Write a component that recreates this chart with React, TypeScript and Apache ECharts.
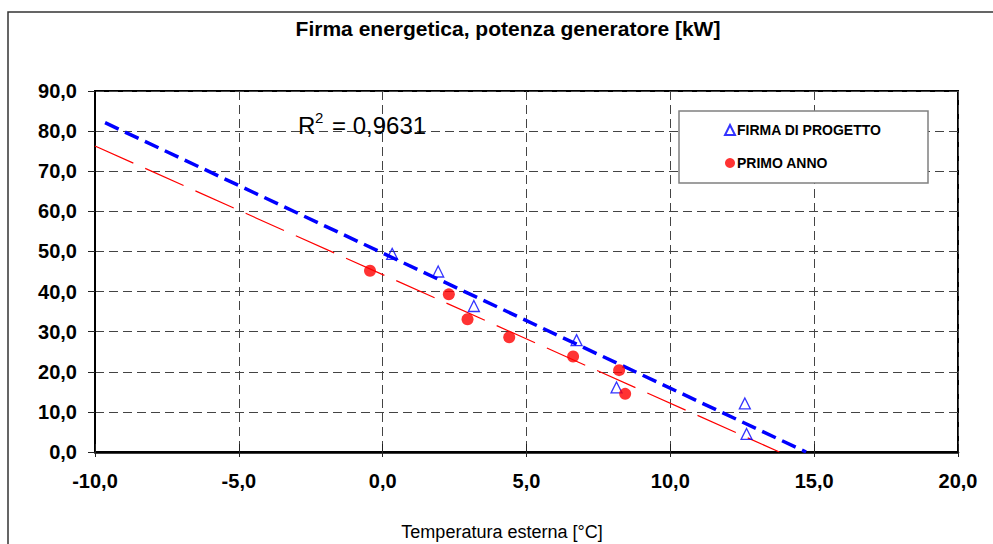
import React, { useEffect, useRef } from "react";
import * as echarts from "echarts";

const FONT = "'Liberation Sans', Arial, sans-serif";

// Temperature (°C) / power (kW)
const firmaX = [0.33, 1.93, 3.17, 6.74, 8.13, 12.59, 12.65];
const firmaY = [49.4, 45.0, 36.4, 27.9, 16.1, 12.1, 4.5];
const primoX = [-0.44, 2.3, 2.95, 4.4, 6.62, 8.22, 8.43];
const primoY = [45.2, 39.3, 33.1, 28.6, 23.8, 20.4, 14.5];
// trend lines (two end points each)
const trendFirmaX = [-9.65, 14.72];
const trendFirmaY = [82.1, 0];
const trendPrimoX = [-10, 13.79];
const trendPrimoY = [76.3, 0];

const seriesNames = ["FIRMA DI PROGETTO", "PRIMO ANNO"];
const titleText = "Firma energetica, potenza generatore [kW]";
const xAxisName = "Temperatura esterna [°C]";
const r2Value = "= 0,9631";

const fmt = (v: number) => v.toFixed(1).replace(".", ",");
const zip = (xs: number[], ys: number[]) => xs.map((x, i) => [x, ys[i]]);

export default function App() {
  const ref = useRef<HTMLDivElement>(null);
  useEffect(() => {
    document.body.style.margin = "0";
    const chart = echarts.init(ref.current!, null, { renderer: "svg" });
    const grid = "#444";
    chart.setOption({
      animation: false,
      backgroundColor: "#fff",
      textStyle: { fontFamily: FONT },
      grid: {
        left: 95,
        right: 35,
        top: 91,
        bottom: 92,
        show: true,
        borderColor: "#000",
        borderWidth: 2,
        backgroundColor: "transparent",
      },
      xAxis: [
        {
          type: "value",
          min: -10,
          max: 20,
          interval: 5,
          position: "bottom",
          axisLine: { show: true, onZero: false, lineStyle: { color: "#000", width: 2.5 } },
          axisTick: { show: true, length: 5, lineStyle: { color: "#222", width: 1 } },
          axisLabel: {
            formatter: fmt,
            fontSize: 20,
            fontWeight: "bold",
            color: "#000",
            margin: 19,
            fontFamily: FONT,
          },
          splitLine: { show: true, lineStyle: { color: grid, type: [9, 5], width: 1 } },
        },
        {
          type: "value",
          min: -10,
          max: 20,
          interval: 5,
          position: "bottom",
          axisLine: { show: false },
          axisTick: { show: true, inside: true, length: 8, lineStyle: { color: "#222", width: 1 } },
          axisLabel: { show: false },
          splitLine: { show: false },
        },
      ],
      yAxis: {
        type: "value",
        min: 0,
        max: 90,
        interval: 10,
        axisLine: { show: true, onZero: false, lineStyle: { color: "#000", width: 2 } },
        axisTick: { show: true, length: 7, lineStyle: { color: "#222", width: 1 } },
        axisLabel: {
          formatter: fmt,
          fontSize: 20,
          fontWeight: "bold",
          color: "#000",
          margin: 18,
          fontFamily: FONT,
        },
        splitLine: { show: true, lineStyle: { color: grid, type: [9, 5], width: 1 } },
      },
      legend: {
        data: seriesNames,
        orient: "vertical",
        left: 724,
        top: 123,
        padding: 0,
        itemGap: 19,
        itemWidth: 10,
        itemHeight: 10,
        z: 20,
        textStyle: {
          fontSize: 14,
          fontWeight: "bold",
          color: "#000",
          fontFamily: FONT,
          padding: [0, 0, 0, -3],
        },
      },
      graphic: {
        elements: [
          {
            type: "rect",
            shape: { x: 8, y: 12, width: 1100, height: 700 },
            style: { fill: "none", stroke: "#333", lineWidth: 1.5 },
            silent: true,
            z: 0,
          },
          {
            type: "rect",
            shape: { x: 679, y: 111, width: 249, height: 72 },
            style: { fill: "#fff", stroke: "#808080", lineWidth: 1.5 },
            z: 10,
          },
          {
            type: "text",
            x: 508,
            y: 28,
            style: {
              text: titleText,
              font: `bold 21px ${FONT}`,
              fill: "#000",
              textAlign: "center",
              textVerticalAlign: "middle",
            },
            z: 10,
          },
          {
            type: "text",
            x: 298,
            y: 125,
            style: {
              text: "R",
              font: `24px ${FONT}`,
              fill: "#000",
              textAlign: "left",
              textVerticalAlign: "middle",
            },
            z: 10,
          },
          {
            type: "text",
            x: 315,
            y: 117,
            style: {
              text: "2",
              font: `15px ${FONT}`,
              fill: "#000",
              textAlign: "left",
              textVerticalAlign: "middle",
            },
            z: 10,
          },
          {
            type: "text",
            x: 332,
            y: 125,
            style: {
              text: r2Value,
              font: `24px ${FONT}`,
              fill: "#000",
              textAlign: "left",
              textVerticalAlign: "middle",
            },
            z: 10,
          },
          {
            type: "text",
            x: 502,
            y: 532,
            style: {
              text: xAxisName,
              font: `18px ${FONT}`,
              fill: "#000",
              textAlign: "center",
              textVerticalAlign: "middle",
            },
            z: 10,
          },
        ],
      },
      series: [
        {
          name: "trendFirma",
          type: "line",
          data: zip(trendFirmaX, trendFirmaY),
          symbol: "none",
          lineStyle: { color: "#0000ff", width: 3.5, type: [15, 7] },
          z: 3,
          silent: true,
        },
        {
          name: "trendPrimo",
          type: "line",
          data: zip(trendPrimoX, trendPrimoY),
          symbol: "none",
          lineStyle: { color: "#ff0000", width: 1.2, type: [42, 13] },
          z: 3,
          silent: true,
        },
        {
          name: seriesNames[0],
          type: "scatter",
          data: zip(firmaX, firmaY),
          symbol: "triangle",
          symbolSize: 11,
          itemStyle: { color: "rgba(255,255,255,0)", borderColor: "#0000ff", borderWidth: 1.3 },
          z: 5,
        },
        {
          name: seriesNames[1],
          type: "scatter",
          data: zip(primoX, primoY),
          symbol: "circle",
          symbolSize: 12,
          itemStyle: { color: "#ff0000" },
          z: 5,
        },
      ],
    });
    return () => chart.dispose();
  }, []);
  return <div ref={ref} style={{ width: 993, height: 544 }} />;
}
